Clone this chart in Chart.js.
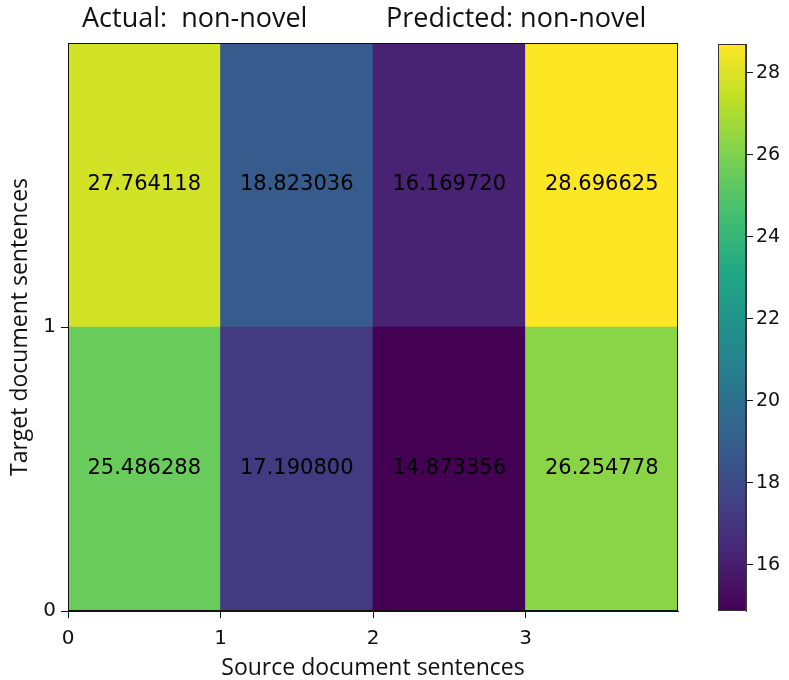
<!DOCTYPE html>
<html>
<head>
<meta charset="utf-8">
<script src="https://cdn.jsdelivr.net/npm/chart.js@4.4.1/dist/chart.umd.min.js"></script>
<style>
  body { margin: 0; background: #fff; }
  #wrap { position: relative; width: 789px; height: 680px; }
  #heat { position: absolute; left: 0; top: 0; }
  #cbar { position: absolute; left: 690px; top: 0; }
</style>
</head>
<body>
<div id="wrap">
  <canvas id="heat" width="789" height="680"></canvas>
  <canvas id="cbar" width="99" height="680"></canvas>
</div>
<script>
// cell values, one array per row (row 0 = bottom, row 1 = top)
var columns = [0, 1, 2, 3];
var row0 = [25.486288, 17.190800, 14.873356, 26.254778];
var row1 = [27.764118, 18.823036, 16.169720, 28.696625];
var rows = [row0, row1];

var xTicks = [0, 1, 2, 3];
var yTicks = [0, 1];
var cbTicks = [16, 18, 20, 22, 24, 26, 28];

var titleLeft = 'Actual:  non-novel';
var titleRight = 'Predicted: non-novel';
var xTitle = 'Source document sentences';
var yTitle = 'Target document sentences';

var vmin = Math.min.apply(null, row0.concat(row1));
var vmax = Math.max.apply(null, row0.concat(row1));

// viridis colormap stops
var viridis = ['#440154', '#482475', '#414487', '#355f8d', '#2a788e', '#21918c',
               '#22a884', '#44bf70', '#7ad151', '#bddf26', '#fde725'];

function hex2rgb(h) {
    return [parseInt(h.substr(1, 2), 16), parseInt(h.substr(3, 2), 16), parseInt(h.substr(5, 2), 16)];
}
function colorFor(v) {
    var t = (v - vmin) / (vmax - vmin);
    t = Math.max(0, Math.min(1, t)) * (viridis.length - 1);
    var i = Math.min(Math.floor(t), viridis.length - 2);
    var f = t - i;
    var a = hex2rgb(viridis[i]), b = hex2rgb(viridis[i + 1]);
    var c = a.map(function (x, k) { return Math.round(x + (b[k] - x) * f); });
    return 'rgb(' + c.join(',') + ')';
}

var tickFont = { family: 'DejaVu Sans', size: 20 };
var titleFont = { family: 'Open Sans', size: 23 };

// frame + cell labels + top titles
var heatPlugin = {
    id: 'heatExtras',
    afterDatasetsDraw: function (chart) {
        var ctx = chart.ctx;
        ctx.save();
        ctx.font = '21px "DejaVu Sans"';
        ctx.fillStyle = '#000';
        ctx.textAlign = 'center';
        ctx.textBaseline = 'middle';
        chart.data.datasets.forEach(function (ds, di) {
            chart.getDatasetMeta(di).data.forEach(function (el, i) {
                var p = el.getProps(['x', 'y', 'base'], true);
                ctx.fillText(rows[di][i].toFixed(6), p.x, (p.y + p.base) / 2);
            });
        });
        ctx.restore();
    },
    afterDraw: function (chart) {
        var ctx = chart.ctx, a = chart.chartArea;
        ctx.save();
        ctx.strokeStyle = '#111';
        ctx.lineWidth = 1;
        ctx.strokeRect(a.left + 0.5, a.top + 0.5, a.right - a.left - 1, a.bottom - a.top - 1);
        ctx.font = '27px "Open Sans"';
        ctx.fillStyle = '#111';
        ctx.textBaseline = 'middle';
        ctx.textAlign = 'left';
        ctx.fillText(titleLeft, 82, 19);
        ctx.fillText(titleRight, 386, 19);
        ctx.restore();
    }
};

var heatData = {
    datasets: rows.map(function (r, ri) {
        return {
            data: columns.map(function (c, ci) { return { x: c + 0.5, y: [ri, ri + 1] }; }),
            backgroundColor: r.map(colorFor),
            borderWidth: 0,
            grouped: false,
            barPercentage: 1,
            categoryPercentage: 1
        };
    })
};

new Chart(document.getElementById('heat'), {
    type: 'bar',
    data: heatData,
    plugins: [heatPlugin],
    options: {
        responsive: false,
        animation: false,
        layout: { padding: { left: 0, right: 111, top: 43, bottom: 0 } },
        plugins: { legend: { display: false }, tooltip: { enabled: false } },
        scales: {
            x: {
                type: 'linear', min: 0, max: 4, offset: false,
                afterBuildTicks: function (s) { s.ticks = xTicks.map(function (v) { return { value: v }; }); },
                afterFit: function (s) { s.height = 69; },
                ticks: { font: tickFont, color: '#111', padding: 9, maxRotation: 0 },
                grid: { drawOnChartArea: false, offset: false, tickLength: 7, color: '#111' },
                border: { display: true, color: '#111' },
                title: { display: true, text: xTitle, font: titleFont, color: '#111', padding: { top: 0, bottom: -2 } }
            },
            y: {
                type: 'linear', min: 0, max: 2,
                afterBuildTicks: function (s) { s.ticks = yTicks.map(function (v) { return { value: v }; }); },
                afterFit: function (s) { s.width = 68; },
                ticks: { font: tickFont, color: '#111', padding: 5 },
                grid: { drawOnChartArea: false, tickLength: 7, color: '#111' },
                border: { display: true, color: '#111' },
                title: { display: true, text: yTitle, font: titleFont, color: '#111', padding: { top: 7, bottom: 0 } }
            }
        }
    }
});

// colorbar
new Chart(document.getElementById('cbar'), {
    type: 'bar',
    data: {
        labels: [''],
        datasets: [{
            data: [[vmin, vmax]],
            backgroundColor: function (c) {
                var a = c.chart.chartArea;
                if (!a) return viridis[0];
                var g = c.chart.ctx.createLinearGradient(0, a.bottom, 0, a.top);
                viridis.forEach(function (h, i) { g.addColorStop(i / (viridis.length - 1), h); });
                return g;
            },
            borderWidth: 0,
            barPercentage: 1,
            categoryPercentage: 1
        }]
    },
    plugins: [{
        id: 'cbFrame',
        afterDraw: function (chart) {
            var ctx = chart.ctx, a = chart.chartArea;
            ctx.save();
            ctx.strokeStyle = '#333';
            ctx.strokeRect(a.left + 0.5, a.top + 0.5, a.right - a.left - 1, a.bottom - a.top - 1);
            ctx.restore();
        }
    }],
    options: {
        responsive: false,
        animation: false,
        layout: { padding: { left: 28, right: 0, top: 44, bottom: 69 } },
        plugins: { legend: { display: false }, tooltip: { enabled: false } },
        scales: {
            x: { display: false },
            y: {
                type: 'linear', position: 'right', min: vmin, max: vmax,
                afterBuildTicks: function (s) { s.ticks = cbTicks.map(function (v) { return { value: v }; }); },
                afterFit: function (s) { s.width = 43; },
                ticks: { font: { family: 'DejaVu Sans', size: 19 }, color: '#111', padding: 3 },
                grid: { drawOnChartArea: false, tickLength: 7, color: '#111' },
                border: { display: true, color: '#333' }
            }
        }
    }
});
</script>
</body>
</html>
